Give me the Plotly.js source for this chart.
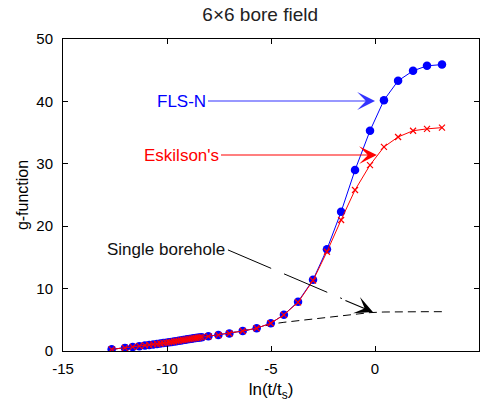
<!DOCTYPE html>
<html>
<head>
<meta charset="utf-8">
<script src="https://cdn.plot.ly/plotly-3.0.1.min.js"></script>
<style>html,body{margin:0;padding:0;background:#fff;}#chart{width:481px;height:402px;}</style>
</head>
<body>
<div id="chart"></div>
<script>
// ln(t/ts) sample points
const lnT = [-12.66, -12.02, -11.65, -11.33, -11.06, -10.85, -10.66, -10.48, -10.32, -10.17,
  -10.03, -9.90, -9.78, -9.66, -9.55, -9.44, -9.33, -9.22, -9.12, -9.02,
  -8.92, -8.82, -8.72, -8.62, -8.52, -8.43, -8.33, -8.01, -7.53, -7.00,
  -6.36, -5.69, -5.01, -4.38, -3.70, -2.98, -2.31, -1.63, -0.96, -0.24,
  0.43, 1.11, 1.83, 2.50, 3.22];

const flsN = [0.27, 0.50, 0.65, 0.78, 0.90, 0.98, 1.05, 1.12, 1.20, 1.27,
  1.33, 1.40, 1.46, 1.52, 1.58, 1.64, 1.70, 1.76, 1.82, 1.87,
  1.93, 1.98, 2.03, 2.08, 2.13, 2.18, 2.22, 2.35, 2.55, 2.80,
  3.20, 3.65, 4.45, 5.80, 7.90, 11.4, 16.3, 22.3, 29.0, 35.3,
  40.2, 43.3, 44.9, 45.7, 45.9];

const eskilson = [0.27, 0.50, 0.65, 0.78, 0.90, 0.98, 1.05, 1.12, 1.20, 1.27,
  1.33, 1.40, 1.46, 1.52, 1.58, 1.64, 1.70, 1.76, 1.82, 1.87,
  1.93, 1.98, 2.03, 2.08, 2.13, 2.18, 2.22, 2.35, 2.55, 2.80,
  3.20, 3.65, 4.45, 5.80, 7.80, 11.3, 15.9, 21.0, 25.8, 29.8,
  32.7, 34.3, 35.3, 35.6, 35.8];

const single = [0.27, 0.50, 0.65, 0.78, 0.90, 0.98, 1.05, 1.12, 1.20, 1.27,
  1.33, 1.40, 1.46, 1.52, 1.58, 1.64, 1.70, 1.76, 1.82, 1.87,
  1.93, 1.98, 2.03, 2.08, 2.13, 2.18, 2.22, 2.35, 2.55, 2.80,
  3.20, 3.65, 4.30, 4.60, 4.85, 5.15, 5.45, 5.70, 5.95, 6.15,
  6.25, 6.30, 6.30, 6.30, 6.30];

const xTicks = [-15, -10, -5, 0, 5];
const yTicks = [0, 10, 20, 30, 40, 50];

const fontFam = 'Arial, "Liberation Sans", sans-serif';

const traces = [
  {x: lnT, y: single, mode: 'lines', line: {color: '#000', width: 1, dash: '8px,5px'}, hoverinfo: 'skip'},
  {x: lnT, y: flsN, mode: 'lines+markers', line: {color: '#0000ff', width: 1},
   marker: {symbol: 'circle', size: 8.5, color: '#0000ff'}},
  {x: lnT, y: eskilson, mode: 'lines+markers', line: {color: '#ff0000', width: 1},
   marker: {symbol: 'x-thin-open', size: 6, line: {color: '#ff0000', width: 1.2}, color: '#ff0000'}}
];

const layout = {
  width: 481, height: 402,
  margin: {l: 63, r: 2, t: 39, b: 51},
  paper_bgcolor: '#fff', plot_bgcolor: '#fff',
  showlegend: false,
  font: {family: fontFam, size: 15, color: '#000'},
  title: {text: '6×6 bore field', font: {family: fontFam, size: 19, color: '#222'},
          x: 0.474, xref: 'paper', xanchor: 'center', y: 0.965, yref: 'container', yanchor: 'middle'},
  xaxis: {range: [-15, 5], tickvals: xTicks, ticktext: xTicks.map(String),
          showline: true, linecolor: '#000', linewidth: 1, mirror: 'ticks',
          ticks: 'inside', ticklen: 5, tickcolor: '#000', showgrid: false, zeroline: false,
          tickfont: {size: 15}, ticklabelstandoff: 4,
          title: {text: 'ln(t/t<sub>s</sub>)', font: {size: 17}, standoff: 8}},
  yaxis: {range: [0, 50], tickvals: yTicks, ticktext: yTicks.map(String),
          showline: true, linecolor: '#000', linewidth: 1, mirror: 'ticks',
          ticks: 'inside', ticklen: 5, tickcolor: '#000', showgrid: false, zeroline: false,
          tickfont: {size: 15}, ticklabelstandoff: 6,
          title: {text: 'g-function', font: {size: 16}, standoff: 3}},
  shapes: [
    {type: 'line', xref: 'x', yref: 'y', x0: -7.07, y0: 16.2, x1: -1.59, y1: 8.4,
     line: {color: '#000', width: 1, dash: '47px,14px'}}
  ],
  annotations: [
    {x: 0.0, y: 40.06, ax: -9.28, ay: 40.06, axref: 'x', ayref: 'y', xref: 'x', yref: 'y',
     text: 'FLS-N', font: {size: 17, color: '#0000ff'}, showarrow: true,
     arrowhead: 3, arrowsize: 2.7, arrowwidth: 1.1, arrowcolor: '#3333ff', standoff: 0},
    {x: 0.09, y: 31.4, ax: -9.28, ay: 31.4, axref: 'x', ayref: 'y', xref: 'x', yref: 'y',
     text: "Eskilson's", font: {size: 17, color: '#ff0000'}, showarrow: true,
     arrowhead: 3, arrowsize: 2.7, arrowwidth: 1.1, arrowcolor: '#ff0000', standoff: 0},
    {x: -10.05, y: 16.19, xref: 'x', yref: 'y', text: 'Single borehole',
     font: {size: 17, color: '#111'}, showarrow: false},
    {x: -0.1, y: 6.25, xref: 'x', yref: 'y', ax: -31, ay: -13, text: ' ', showarrow: true,
     arrowhead: 3, arrowsize: 2.7, arrowwidth: 1.1, arrowcolor: '#000', standoff: 0}
  ]
};

Plotly.newPlot('chart', traces, layout, {displayModeBar: false, staticPlot: true});
</script>
</body>
</html>
